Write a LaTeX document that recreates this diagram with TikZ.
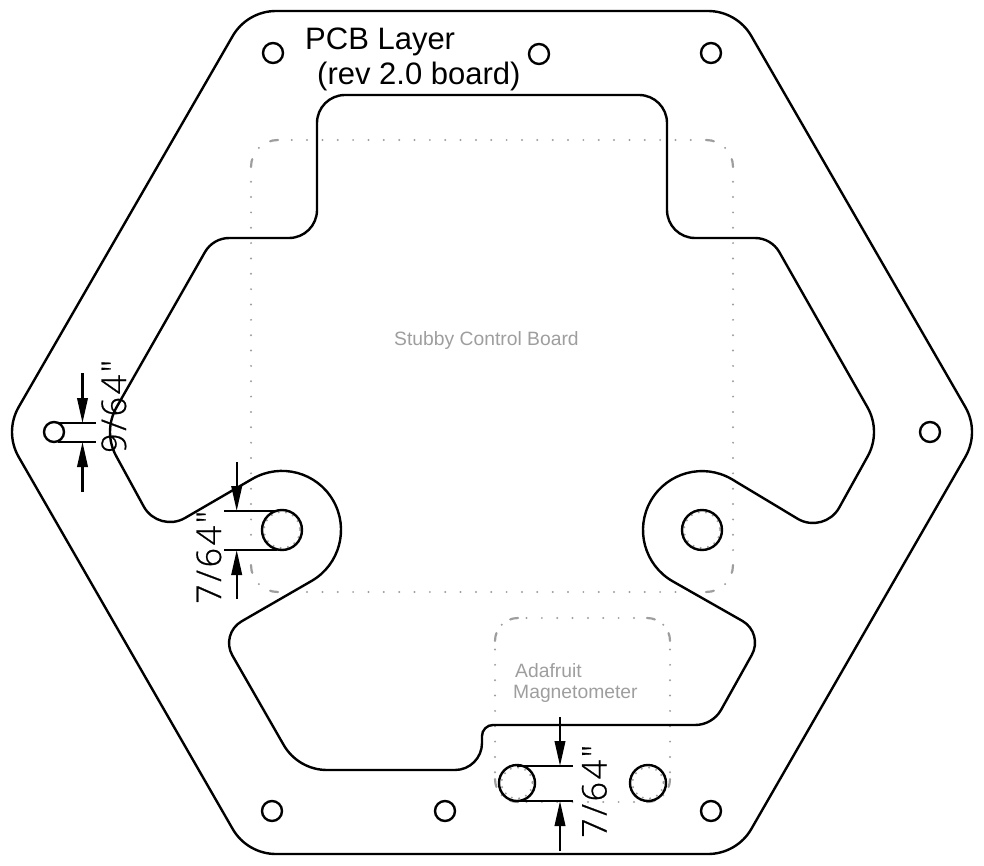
\documentclass[tikz,border=0pt]{standalone}
\usepackage{fontspec}
\setmainfont{Liberation Sans}
\newfontfamily\dimfont[LetterSpace=8,FakeBold=0.7]{Open Sans Light}
\usetikzlibrary{arrows.meta}

\begin{document}
\begin{tikzpicture}[x=1pt,y=-1pt]
    \useasboundingbox (0,0) rectangle (984,866);
    \tikzset{BoardLine/.style = {line width=2.4pt, color=black}}
    \tikzset{Outline/.style = {line width=2.2pt, color=black!38, line cap=round, dash pattern=on 0pt off 15.35pt}}
    \tikzset{CornerBig/.style = {line width=2.2pt, color=black!38, line cap=round, dash pattern=on 8pt off 13.2pt on 0pt off 13.2pt on 8pt}}
    \tikzset{CornerSmall/.style = {line width=2.2pt, color=black!38, line cap=round, dash pattern=on 8pt off 10pt on 0pt off 10pt on 8pt}}
    \tikzset{Pin/.style = {line width=2.2pt, color=black!38, line cap=round, dash pattern=on 0pt off 7.4pt}}
    \tikzset{ExtLine/.style = {line width=2.2pt}}
    \tikzset{DimLine/.style = {line width=2.2pt, -{Triangle[length=25pt,width=10.5pt]}}}
    \tikzset{DimLabel/.style = {rotate=90, anchor=base west, inner sep=0pt, font=\fontsize{34}{34}\dimfont}}
    \tikzset{Note/.style = {anchor=base west, inner sep=0pt, color=black!38, font=\fontsize{19.3}{20}\selectfont}}
    \tikzset{Title/.style = {anchor=base west, inner sep=0pt, font=\fontsize{31}{32}\selectfont}}

    \draw[Outline] (291.7,140) -- (706,140) (733,181.7) -- (733,565) (291.7,592) -- (706,592) (251,181.7) -- (251,565);
    \draw[CornerBig] (278,140) arc[start angle=-90,end angle=-180,radius=27];
    \draw[CornerBig] (706,140) arc[start angle=-90,end angle=0,radius=27];
    \draw[CornerBig] (706,592) arc[start angle=90,end angle=0,radius=27];
    \draw[CornerBig] (278,592) arc[start angle=90,end angle=180,radius=27];

    \draw[Outline] (526.5,618) -- (647,618) (670,649.5) -- (670,779) (526.5,802) -- (647,802) (495,649.5) -- (495,779);
    \draw[CornerSmall] (518,618) arc[start angle=-90,end angle=-180,radius=23];
    \draw[CornerSmall] (647,618) arc[start angle=-90,end angle=0,radius=23];
    \draw[CornerSmall] (647,802) arc[start angle=90,end angle=0,radius=23];
    \draw[CornerSmall] (518,802) arc[start angle=90,end angle=180,radius=23];

    \draw[BoardLine] (276,11) -- (708,11) arc[start angle=-90,end angle=-30,radius=50]
        -- (965.3,407) arc[start angle=-30,end angle=30,radius=50]
        -- (751.3,829) arc[start angle=30,end angle=90,radius=50]
        -- (276,854) arc[start angle=90,end angle=150,radius=50]
        -- (18.7,457) arc[start angle=150,end angle=210,radius=50]
        -- (232.7,36) arc[start angle=210,end angle=270,radius=50] -- cycle;

    \draw[BoardLine] (345,95) -- (639,95) arc[start angle=-90,end angle=0,radius=28]
        -- (667,210) arc[start angle=180,end angle=90,radius=28]
        -- (755,238) arc[start angle=-90,end angle=-30,radius=28]
        -- (867.3,407) arc[start angle=-30,end angle=30,radius=50]
        -- (839,508) arc[start angle=30,end angle=120,radius=30]
        -- (731.5,479) arc[start angle=-60,end angle=-240,radius=59]
        -- (742.5,621) arc[start angle=-60,end angle=30,radius=25]
        -- (721,710) arc[start angle=30,end angle=90,radius=30]
        -- (493,725) arc[start angle=-90,end angle=-180,radius=11]
        -- (482,743) arc[start angle=0,end angle=90,radius=27]
        -- (327,770) arc[start angle=90,end angle=150,radius=50]
        -- (232.4,655.5) arc[start angle=150,end angle=240,radius=25]
        -- (311.5,581) arc[start angle=60,end angle=-120,radius=59]
        -- (185,518) arc[start angle=60,end angle=150,radius=30]
        -- (116.7,457) arc[start angle=150,end angle=210,radius=50]
        -- (205,252) arc[start angle=210,end angle=270,radius=28]
        -- (289,238) arc[start angle=90,end angle=0,radius=28]
        -- (317,123) arc[start angle=180,end angle=270,radius=28] -- cycle;

    \draw[BoardLine] (273,53) circle[radius=10];
    \draw[BoardLine] (539,54) circle[radius=10];
    \draw[BoardLine] (711,53) circle[radius=10];
    \draw[BoardLine] (930,432) circle[radius=10];
    \draw[BoardLine] (54,432) circle[radius=10];
    \draw[BoardLine] (272,811) circle[radius=10];
    \draw[BoardLine] (445,811) circle[radius=10];
    \draw[BoardLine] (711,811) circle[radius=10];

    \draw[Pin] (282,530) circle[radius=18];
    \draw[Pin] (702,530) circle[radius=18];
    \draw[Pin] (517,783) circle[radius=15.5];
    \draw[Pin] (648,783) circle[radius=15.5];
    \draw[BoardLine] (282,530) circle[radius=20];
    \draw[BoardLine] (702,530) circle[radius=20];
    \draw[BoardLine] (517,783) circle[radius=18];
    \draw[BoardLine] (648,783) circle[radius=18];

    \node[Title] (title1) at (305,50) {PCB Layer};
    \node[Title] (title2) at (317,85) {(rev 2.0 board)};
    \node[Note] (stubby) at (394,345) {Stubby Control Board};
    \node[Note] (ada1) at (515,677) {Adafruit};
    \node[Note] (ada2) at (513,698) {Magnetometer};

    \coordinate (D1a) at (82.5,373);
    \coordinate (D1t) at (82.5,423);
    \coordinate (D1b) at (82.5,492);
    \coordinate (D1u) at (82.5,442);
    \draw[ExtLine] (58,423) -- (96,423);
    \draw[ExtLine] (58,442) -- (96,442);
    \draw[DimLine] (D1a) -- (D1t);
    \draw[DimLine] (D1b) -- (D1u);
    \node[DimLabel] (dimA) at (126,453) {9/64"};

    \coordinate (D2a) at (236.7,462);
    \coordinate (D2t) at (236.7,511);
    \coordinate (D2b) at (236.7,599);
    \coordinate (D2u) at (236.7,550);
    \draw[ExtLine] (224,511) -- (277,511);
    \draw[ExtLine] (224,550) -- (277,550);
    \draw[DimLine] (D2a) -- (D2t);
    \draw[DimLine] (D2b) -- (D2u);
    \node[DimLabel] (dimB) at (221,604) {7/64"};

    \coordinate (D3a) at (560,717);
    \coordinate (D3t) at (560,766);
    \coordinate (D3b) at (560,851);
    \coordinate (D3u) at (560,801);
    \draw[ExtLine] (517,766) -- (573,766);
    \draw[ExtLine] (517,801) -- (573,801);
    \draw[DimLine] (D3a) -- (D3t);
    \draw[DimLine] (D3b) -- (D3u);
    \node[DimLabel] (dimC) at (606.5,838) {7/64"};
\end{tikzpicture}
\end{document}
